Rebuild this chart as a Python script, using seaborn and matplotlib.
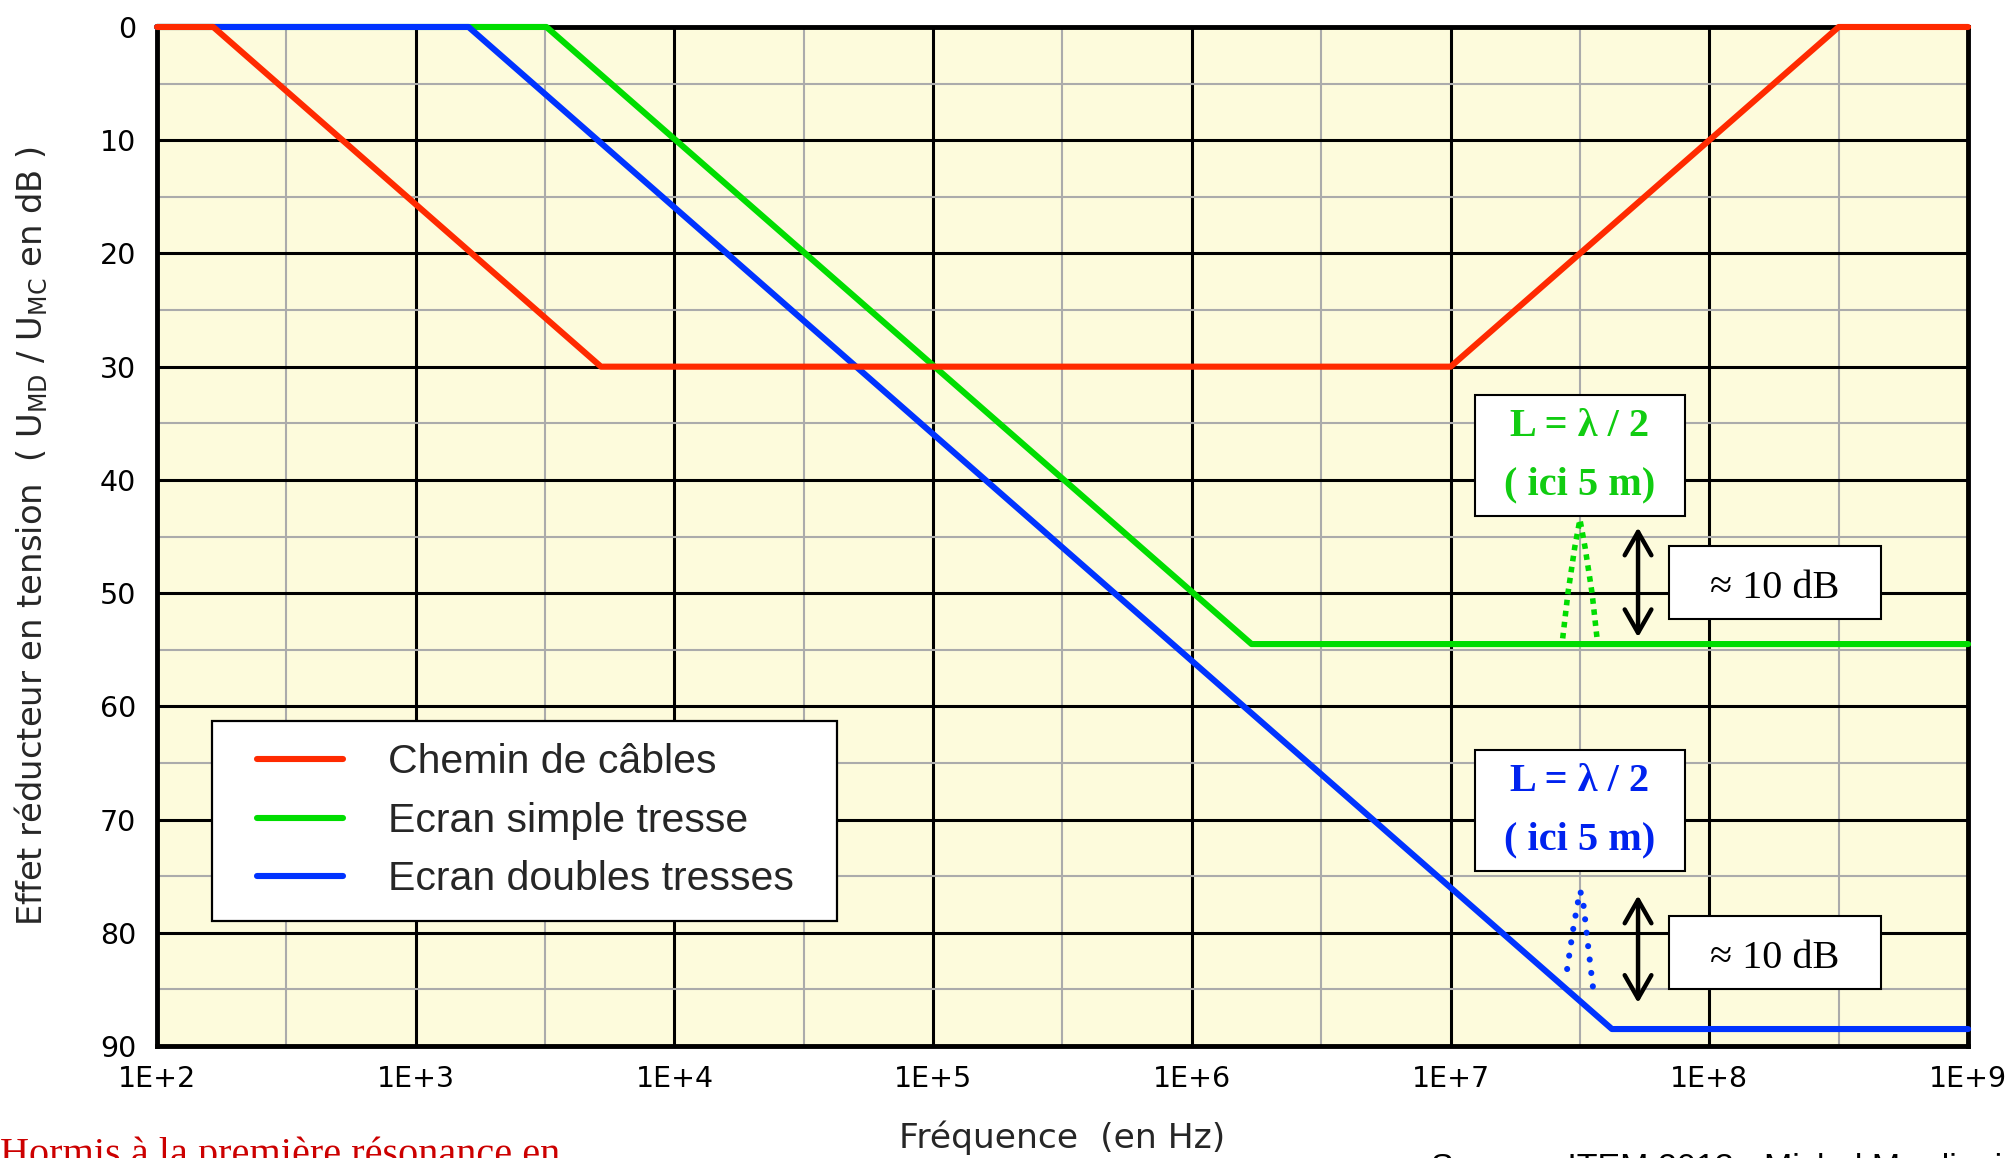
import numpy as np
import pandas as pd
import matplotlib
matplotlib.use("Agg")
import matplotlib.pyplot as plt
import seaborn as sns
from matplotlib.path import Path
from matplotlib.lines import Line2D
from matplotlib.legend_handler import HandlerLine2D
from matplotlib.ticker import FixedLocator, NullFormatter

# Asymptotic attenuation curves (frequency in Hz, reduction in dB)
freq_chemin = [1e2, 1.65e2, 5.2e3, 1e7, 3.16e8, 1e9]
att_chemin = [0, 0, 30, 30, 0, 0]

freq_simple = [1e2, 3.2e3, 1.7e6, 1e9]
att_simple = [0, 0, 54.5, 54.5]

freq_double = [1e2, 1.6e3, 4.2e7, 1e9]
att_double = [0, 0, 88.5, 88.5]

# First half-wave resonance (dotted peaks)
freq_res_simple = [2.71e7, 2.84e7, 3.02e7, 3.16e7, 3.31e7, 3.52e7, 3.68e7]
att_res_simple = [54.0, 50.0, 45.9, 43.5, 46.0, 50.0, 54.0]
freq_res_double = [2.82e7, 2.97e7, 3.09e7, 3.17e7, 3.26e7, 3.40e7, 3.59e7]
att_res_double = [83.2, 79.8, 77.5, 76.3, 77.5, 81.2, 85.8]

# Resonance depth arrows
freq_arrow = 5.3e7
arrow_simple = (44.2, 53.9)
arrow_double = (76.7, 86.2)

series_labels = ["Chemin de câbles", "Ecran simple tresse", "Ecran doubles tresses"]
series_colors = ["#FF2A00", "#00DD00", "#0033FF"]

x_ticks = [1e2, 1e3, 1e4, 1e5, 1e6, 1e7, 1e8, 1e9]
x_ticklabels = ["1E+2", "1E+3", "1E+4", "1E+5", "1E+6", "1E+7", "1E+8", "1E+9"]
x_minor = [3.16e2, 3.16e3, 3.16e4, 3.16e5, 3.16e6, 3.16e7, 3.16e8]
y_ticks = [0, 10, 20, 30, 40, 50, 60, 70, 80, 90]
y_minor = [5, 15, 25, 35, 45, 55, 65, 75, 85]

sns.set_theme(style="white")
plt.rcParams["font.family"] = ["DejaVu Sans"]

fig = plt.figure(figsize=(20.13, 11.58), dpi=100)
ax = fig.add_axes([0.078, 0.0967, 0.8997, 0.88])
ax.set_facecolor("#FDFBDC")

df_chemin = pd.DataFrame({"f": freq_chemin, "a": att_chemin})
df_simple = pd.DataFrame({"f": freq_simple, "a": att_simple})
df_double = pd.DataFrame({"f": freq_double, "a": att_double})

lw = 4.4
sns.lineplot(data=df_simple, x="f", y="a", ax=ax, color=series_colors[1], lw=lw,
             estimator=None, sort=False, legend=False, clip_on=False, zorder=3)
sns.lineplot(data=df_double, x="f", y="a", ax=ax, color=series_colors[2], lw=lw,
             estimator=None, sort=False, legend=False, clip_on=False, zorder=4)
sns.lineplot(data=df_chemin, x="f", y="a", ax=ax, color=series_colors[0], lw=lw,
             estimator=None, sort=False, legend=False, clip_on=False, zorder=5)

# Dotted resonance peaks
ax.plot(freq_res_simple, att_res_simple, color=series_colors[1], lw=4.0,
        linestyle=(0, (1.0, 1.0)), dash_capstyle="butt", zorder=4)
ax.plot(freq_res_double, att_res_double, color=series_colors[2], lw=4.4,
        linestyle=(0, (0.01, 2.2)), dash_capstyle="round", zorder=4)

ax.set_xscale("log")
ax.set_xlim(1e2, 1e9)
ax.set_ylim(90, 0)
ax.xaxis.set_major_locator(FixedLocator(x_ticks))
ax.set_xticks(x_ticks, x_ticklabels)
ax.xaxis.set_minor_locator(FixedLocator(x_minor))
ax.xaxis.set_minor_formatter(NullFormatter())
ax.set_yticks(y_ticks)
ax.yaxis.set_minor_locator(FixedLocator(y_minor))

ax.grid(which="major", color="black", lw=2.2)
ax.grid(which="minor", color="#ABABAB", lw=1.5)
ax.set_axisbelow(True)
for s in ax.spines.values():
    s.set_color("black")
    s.set_linewidth(3.5)
    s.set_zorder(2.5)

ax.tick_params(axis="both", which="both", length=0, labelsize=20.5, colors="black")
ax.tick_params(axis="x", pad=14)
ax.tick_params(axis="y", pad=15)

ax.set_xlabel("Fréquence  (en Hz)", fontsize=24.8, va="center")
ax.xaxis.set_label_coords(0.5, -0.0903)
ax.set_ylabel("Effet réducteur en tension  ( U$_\\mathregular{MD}$ / U$_\\mathregular{MC}$ en dB )",
              fontsize=24.3, va="center")
ax.yaxis.set_label_coords(-0.0695, 0.5)

# Legend
handles = [Line2D([], [], color=c, lw=lw) for c in series_colors]
leg = ax.legend(handles, series_labels, loc="upper left",
                bbox_to_anchor=(0.0304, 0.1256, 0.345, 0.1934), mode="expand",
                borderaxespad=0, handlelength=2.65, handletextpad=1.1,
                borderpad=0.55, labelspacing=0.5,
                prop={"family": "Liberation Sans", "size": 29.5},
                frameon=True, fancybox=False, edgecolor="black", framealpha=1,
                facecolor="white",
                handler_map={Line2D: HandlerLine2D(xpad=0.55)})
leg.get_frame().set_linewidth(1.6)
leg.set_zorder(6)


def padded_box(padx, pad_bottom, pad_top):
    def box(x0, y0, width, height, mutation_size):
        px = padx * mutation_size
        pb, pt = pad_bottom * mutation_size, pad_top * mutation_size
        return Path([(x0 - px, y0 - pb), (x0 + width + px, y0 - pb),
                     (x0 + width + px, y0 + height + pt), (x0 - px, y0 + height + pt),
                     (x0 - px, y0 - pb)], closed=True)
    return box


serif = "Liberation Serif"
box_kw = dict(facecolor="white", edgecolor="black", linewidth=1.5)
ax.text(3.16e7, 37.85, "L = λ / 2\n( ici 5 m)", ha="center", va="center",
        fontsize=29, fontweight="bold", family=serif, color="#11CC11",
        linespacing=1.75, zorder=7,
        bbox=dict(boxstyle=padded_box(0.74, 0.32, 0.32), **box_kw))
ax.text(3.16e7, 69.2, "L = λ / 2\n( ici 5 m)", ha="center", va="center",
        fontsize=29, fontweight="bold", family=serif, color="#0022EE",
        linespacing=1.75, zorder=7,
        bbox=dict(boxstyle=padded_box(0.74, 0.32, 0.32), **box_kw))
for yc in (49.6, 82.3):
    ax.text(1.79e8, yc, "≈ 10 dB", ha="center", va="center", fontsize=29,
            family=serif, color="black", zorder=7,
            bbox=dict(boxstyle=padded_box(1.03, 0.29, 0.6), **box_kw))

for y0, y1 in (arrow_simple, arrow_double):
    ax.annotate("", xy=(freq_arrow, y0), xytext=(freq_arrow, y1),
                arrowprops=dict(arrowstyle="<->,head_length=0.42,head_width=0.24",
                                lw=3.2, color="black", shrinkA=0, shrinkB=0,
                                mutation_scale=40), zorder=7)

fig.text(0.0, -0.006, "Hormis à la première résonance en", family=serif,
         fontsize=29, color="#CC0000", ha="left", va="baseline")
fig.text(0.711, -0.0164, "Source : ITEM 2013 - Michel Mardiguian",
         family="Liberation Sans", fontsize=24.5, color="black",
         ha="left", va="baseline")

fig.savefig("out.png", dpi=100)
